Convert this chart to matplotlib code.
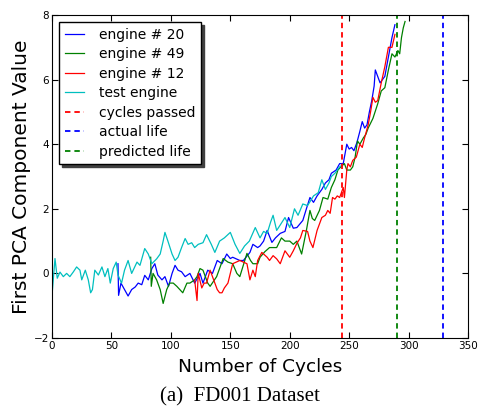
import matplotlib
matplotlib.use('Agg')
import matplotlib.pyplot as plt

# test engine (cyan)
test_x = [0, 2.5, 4.4, 6.7, 9.5, 12.3, 15, 18, 20.7, 23.5, 25, 28, 30.5, 32.5, 34, 36, 39, 42, 44.5, 47, 49, 51.5,
          54, 55.5, 58.5, 61, 64, 67, 71.5, 74, 78, 81, 84, 88, 91, 93.5, 95, 97.5, 101, 103.5, 106, 109, 112,
          114.5, 117.5, 120, 123, 127, 130, 134, 137, 141, 145, 150, 154, 158, 162, 166, 171, 175, 178, 181,
          184, 186, 189, 192, 196, 200, 204, 207, 211, 215, 220, 224, 227, 230, 233, 235, 238, 242, 244]
test_y = [-0.68, 0.46, -0.15, 0.04, -0.1, 0.0, -0.1, 0.05, 0.2, 0.1, -0.2, 0.1, -0.2, -0.6, -0.5, 0.1, -0.05, 0.2,
          -0.1, 0.15, -0.3, 0.15, 0.35, -0.05, -0.3, 0.1, 0.4, 0.0, 0.35, 0.25, 0.77, 0.6, 0.3, 0.45, 0.6, 1.0,
          1.27, 1.0, 0.6, 0.4, 0.5, 0.8, 1.08, 0.9, 0.95, 0.8, 0.9, 0.95, 1.2, 0.9, 0.65, 1.0, 1.1, 1.27, 0.9,
          0.62, 0.85, 1.0, 1.42, 1.1, 1.3, 1.24, 1.6, 1.8, 1.33, 1.5, 1.73, 1.42, 2.0, 1.8, 2.15, 2.1, 2.4, 2.5,
          2.9, 2.6, 2.8, 3.0, 3.1, 3.3, 3.35]

# engine 20 (blue)
e20_x = [55.5, 56, 58, 61, 64, 67, 70, 72.5, 75.5, 78, 81, 84, 86.5, 89, 92.5, 95, 98, 101, 103.5, 106, 109, 112,
         116, 120, 124.5, 127, 131, 135, 139, 143, 147, 150, 152, 158, 161, 166.5, 169, 173, 175, 178, 181, 185,
         188, 192, 196, 199, 203, 206, 211, 214, 217, 220, 223, 227, 230, 233, 235, 239, 242, 245, 248, 250, 252,
         254, 256.5, 259, 261, 263, 265, 267, 269, 271, 272, 274, 276, 278, 280, 283, 286, 288.5]
e20_y = [0.3, -0.68, -0.3, -0.5, -0.7, -0.5, -0.42, -0.3, -0.35, -0.06, -0.2, 0.15, 0.3, -0.05, -0.2, -0.1, -0.4,
         0.0, 0.25, 0.1, 0.05, -0.1, 0.0, -0.3, 0.0, -0.3, 0.1, 0.0, 0.4, 0.3, 0.6, 0.46, 0.5, 0.4, 0.4, 0.65,
         0.9, 0.8, 0.85, 1.0, 1.33, 0.96, 1.1, 1.24, 1.3, 1.73, 1.4, 1.42, 1.64, 2.0, 2.35, 2.2, 2.4, 2.6, 2.8,
         2.9, 3.1, 3.2, 3.4, 3.4, 4.0, 3.85, 3.9, 3.8, 4.05, 4.4, 4.7, 4.5, 4.6, 5.0, 5.35, 5.8, 6.3, 6.1, 5.9,
         6.0, 6.1, 6.7, 7.3, 7.7]

# engine 49 (green)
e49_x = [83, 83.5, 85, 88, 91, 93.5, 96.5, 99, 102, 105, 107.5, 110, 113.5, 116, 120, 122, 124.5, 127, 131, 133,
         138.5, 144, 148, 152, 155.5, 158, 164, 167, 169, 173, 175, 179, 183, 186, 189, 193, 196, 200, 203, 206,
         210, 214, 217, 219, 221, 225, 228, 232, 235, 238, 240.5, 243, 246, 248, 251, 253, 255, 257, 259, 262,
         264, 266, 270, 274, 277, 280, 283, 286, 288.5, 291, 292.5, 294, 295.5, 297]
e49_y = [0.5, -0.4, 0.0, -0.2, -0.5, -0.93, -0.5, -0.3, -0.3, -0.4, -0.5, -0.6, -0.3, -0.3, -0.2, -0.1, 0.15, 0.1,
         -0.3, -0.4, -0.1, 0.46, 0.35, 0.3, 0.0, -0.1, 0.62, 0.4, 0.3, 0.3, 0.5, 0.67, 0.8, 0.8, 0.8, 1.1, 1.0,
         1.0, 0.9, 1.0, 0.6, 1.33, 1.95, 1.7, 1.64, 1.95, 2.35, 2.3, 2.66, 2.9, 3.2, 3.3, 3.4, 3.2, 3.2, 3.3, 3.6,
         4.1, 4.0, 4.2, 4.3, 4.5, 4.8, 5.25, 5.65, 5.75, 6.3, 6.8, 6.7, 6.9, 6.8, 7.3, 7.6, 7.8]

# engine 12 (red)
e12_x = [120, 122, 123, 126, 128, 130, 133, 136, 139, 141, 143, 145, 148, 150, 152, 155, 158, 161, 164, 166.5,
         169, 171, 173, 176.5, 181, 183, 186, 189, 192, 196, 200, 203, 206, 209, 211, 215, 217, 219.5, 223, 227,
         230, 232, 234, 236, 238, 240, 242, 245, 246, 248, 249, 251, 253, 256, 259, 261, 263, 266, 268, 270, 272,
         274, 277, 280, 283, 286, 288.5]
e12_y = [-0.2, -0.84, 0.0, -0.45, -0.3, -0.3, 0.1, -0.2, -0.5, -0.6, -0.6, -0.45, -0.3, 0.0, 0.3, 0.35, 0.4, 0.35,
         0.3, -0.2, 0.1, -0.1, 0.4, 0.65, 0.5, 0.4, 0.55, 0.45, 0.3, 0.7, 0.5, 0.7, 0.93, 1.1, 1.33, 1.3, 1.0, 0.8,
         1.33, 1.73, 1.8, 1.95, 1.86, 2.35, 2.3, 2.4, 2.35, 2.66, 2.35, 3.2, 3.4, 3.3, 3.5, 3.6, 4.0, 3.9, 4.2, 4.6,
         5.0, 5.45, 5.3, 5.35, 5.9, 6.4, 7.0, 7.0, 7.4]

cycles_passed = 244
actual_life = 329
predicted_life = 290

fig = plt.figure(figsize=(4.79, 4.13), dpi=100)
ax = fig.add_axes([0.1086, 0.1816, 0.8685, 0.782])

ax.plot(e20_x, e20_y, color='blue', lw=0.9, label='engine # 20')
ax.plot(e49_x, e49_y, color='green', lw=0.9, label='engine # 49')
ax.plot(e12_x, e12_y, color='red', lw=0.9, label='engine # 12')
ax.plot(test_x, test_y, color='c', lw=0.9, label='test engine')
ax.axvline(cycles_passed, color='red', ls=(0, (3, 2.2)), lw=1.3, label='cycles passed')
ax.axvline(actual_life, color='blue', ls=(0, (3, 2.2)), lw=1.3, label='actual life')
ax.axvline(predicted_life, color='green', ls=(0, (3, 2.2)), lw=1.3, label='predicted life')

ax.set_xlim(0, 350)
ax.set_ylim(-2, 8)
ax.set_xticks(range(0, 351, 50))
ax.set_yticks(range(-2, 9, 2))
ax.tick_params(direction='in', top=True, right=True, labelsize=7.5, length=4, pad=2)
ax.set_xlabel('Number of Cycles', fontsize=13.3, labelpad=5)
ax.set_ylabel('First PCA Component Value', fontsize=14.5, labelpad=2)

leg = ax.legend(loc='upper left', fontsize=10, shadow={'color': '0.25', 'alpha': 1}, fancybox=False,
                handlelength=1.4, handletextpad=1.1, borderaxespad=0.5, labelspacing=0.4)
leg.get_frame().set_edgecolor('black')

fig.text(0.5, 0.038, '(a)  FD001 Dataset', ha='center', va='center', fontsize=15, family='Liberation Serif')

plt.savefig('out.png', dpi=100)
